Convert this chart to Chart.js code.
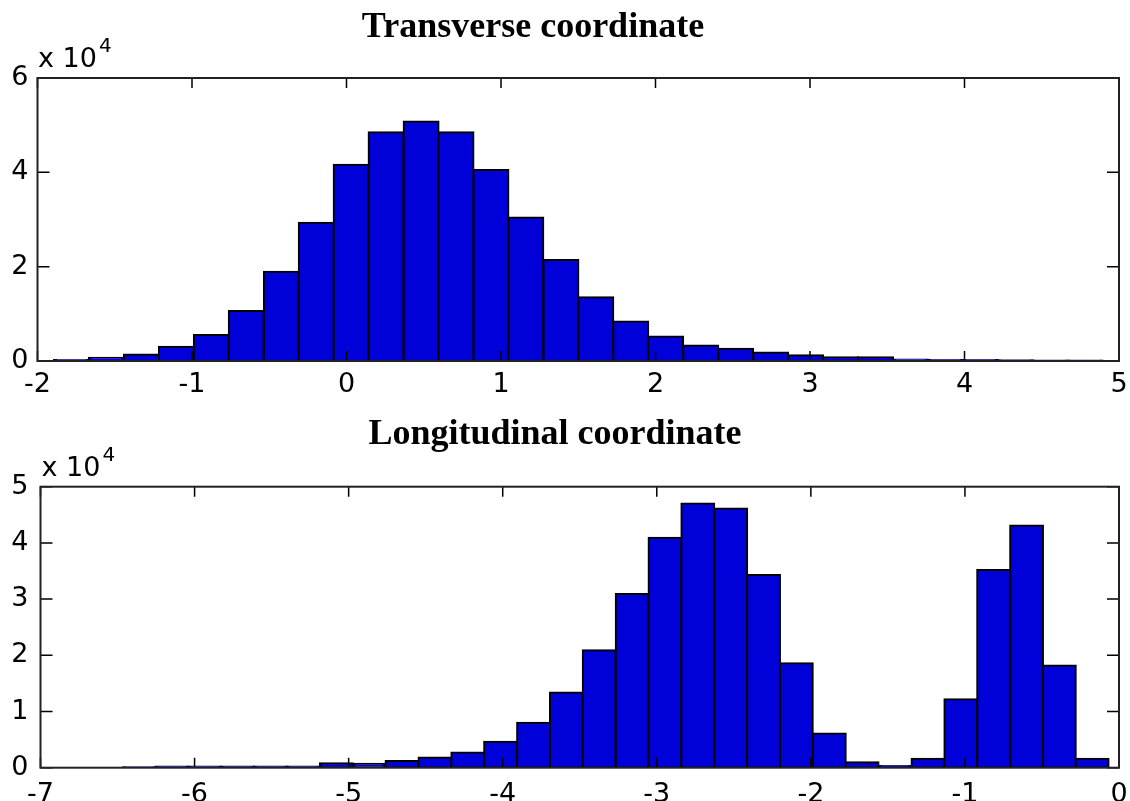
<!DOCTYPE html>
<html><head><meta charset="utf-8">
<script src="https://cdn.jsdelivr.net/npm/chart.js@4.4.1/dist/chart.umd.min.js"></script>
<style>
html,body{margin:0;padding:0;background:#fff;width:1130px;height:801px;overflow:hidden}
.box{position:absolute;left:0;width:1130px}
#b1{top:0;height:400px}
#b2{top:400px;height:401px}
</style></head><body>
<div class="box" id="b1"><canvas id="c1" width="1130" height="400"></canvas></div>
<div class="box" id="b2"><canvas id="c2" width="1130" height="401"></canvas></div>
<script>
// ---- data (counts are absolute; axis shows x 10^4) ----
const transverseTitle = 'Transverse coordinate';
const transverseBinCenters = [-1.780, -1.554, -1.327, -1.101, -0.875, -0.649, -0.422, -0.196, 0.030, 0.256,
  0.483, 0.709, 0.935, 1.161, 1.388, 1.614, 1.840, 2.066, 2.293, 2.519,
  2.745, 2.971, 3.198, 3.424, 3.650, 3.876, 4.103, 4.329, 4.555, 4.781];
const transverseCounts = [200, 700, 1400, 3000, 5500, 10600, 18900, 29300, 41600, 48500,
  50800, 48500, 40500, 30400, 21400, 13500, 8400, 5200, 3300, 2600,
  1800, 1200, 800, 800, 300, 200, 200, 150, 100, 100];
const transverseXTicks = [-2, -1, 0, 1, 2, 3, 4, 5];
const transverseYTicks = [0, 20000, 40000, 60000];

const longitudinalTitle = 'Longitudinal coordinate';
const longitudinalBinCenters = [-6.360, -6.147, -5.934, -5.720, -5.507, -5.294, -5.080, -4.867, -4.654, -4.440,
  -4.227, -4.014, -3.800, -3.587, -3.374, -3.160, -2.947, -2.734, -2.520, -2.307,
  -2.094, -1.880, -1.667, -1.454, -1.240, -1.027, -0.814, -0.600, -0.387, -0.174];
const longitudinalCounts = [100, 200, 200, 200, 200, 200, 800, 700, 1200, 1800,
  2700, 4600, 8000, 13400, 20900, 30900, 40900, 47000, 46100, 34300,
  18600, 6100, 950, 300, 1600, 12200, 35200, 43100, 18200, 1600];
const longitudinalXTicks = [-7, -6, -5, -4, -3, -2, -1, 0];
const longitudinalYTicks = [0, 10000, 20000, 30000, 40000, 50000];

const exponentBase = 'x 10';
const exponentPower = '4';

// ---- MATLAB-like frame, inward ticks, title, exponent label ----
const matlabAxes = {
  id: 'matlabAxes',
  afterDatasetsDraw(chart, args, opts) {
    const {ctx, chartArea: a, scales} = chart;
    const x = scales.x, y = scales.y;
    ctx.save();
    ctx.strokeStyle = '#000';
    ctx.lineWidth = 1.5;
    ctx.beginPath();
    x.ticks.forEach(t => {
      const px = x.getPixelForValue(t.value);
      ctx.moveTo(px, a.bottom); ctx.lineTo(px, a.bottom - opts.xTickLen);
      ctx.moveTo(px, a.top); ctx.lineTo(px, a.top + opts.xTickLen);
    });
    y.ticks.forEach(t => {
      const py = y.getPixelForValue(t.value);
      ctx.moveTo(a.left, py); ctx.lineTo(a.left + opts.yTickLen, py);
      ctx.moveTo(a.right, py); ctx.lineTo(a.right - opts.yTickLen, py);
    });
    ctx.stroke();
    ctx.lineWidth = 2;
    ctx.strokeStyle = '#222';
    ctx.strokeRect(a.left, a.top, a.width, a.height);
    // title
    ctx.fillStyle = '#000';
    ctx.font = 'bold 36px "Liberation Serif", "Times New Roman", serif';
    ctx.textAlign = 'center';
    ctx.textBaseline = 'alphabetic';
    ctx.fillText(opts.title, opts.titleX, opts.titleY);
    // exponent
    ctx.textAlign = 'left';
    ctx.font = '27px "DejaVu Sans", sans-serif';
    const ex = a.left + opts.expDx;
    ctx.fillText(exponentBase, ex, a.top - 11);
    const w = ctx.measureText(exponentBase).width;
    ctx.font = '20px "DejaVu Sans", sans-serif';
    ctx.fillText(exponentPower, ex + w + 2, a.top - 26);
    ctx.restore();
  }
};

function makeHist(canvasId, centers, counts, xTicks, yTicks, cfg) {
  return new Chart(document.getElementById(canvasId), {
    type: 'bar',
    data: {
      datasets: [{
        data: centers.map((c, i) => ({x: c, y: counts[i]})),
        backgroundColor: '#0000d8',
        borderColor: '#000',
        borderWidth: 2,
        borderSkipped: false,
        inflateAmount: 1,
        barPercentage: 1,
        categoryPercentage: 1
      }]
    },
    options: {
      responsive: false,
      animation: false,
      events: [],
      layout: {padding: {top: cfg.padTop, right: 11, bottom: 0, left: 0}},
      plugins: {
        legend: {display: false},
        title: {display: false},
        tooltip: {enabled: false},
        matlabAxes: {title: cfg.title, titleX: cfg.titleX, titleY: cfg.titleY,
          xTickLen: 10, yTickLen: 12, expDx: cfg.expDx}
      },
      scales: {
        x: {
          type: 'linear',
          offset: false,
          min: xTicks[0],
          max: xTicks[xTicks.length - 1],
          afterBuildTicks: s => { s.ticks = xTicks.map(v => ({value: v})); },
          grid: {display: false, drawTicks: false, offset: false},
          border: {display: false},
          ticks: {color: '#000', padding: cfg.xPad, maxRotation: 0, autoSkip: false,
            font: {family: 'DejaVu Sans', size: 27}, callback: v => String(v)},
          afterFit: s => { s.height = cfg.xHeight; s.paddingLeft = 0; s.paddingRight = 0; }
        },
        y: {
          min: yTicks[0],
          max: yTicks[yTicks.length - 1],
          afterBuildTicks: s => { s.ticks = yTicks.map(v => ({value: v})); },
          grid: {display: false, drawTicks: false},
          border: {display: false},
          ticks: {color: '#000', padding: cfg.yPad,
            font: {family: 'DejaVu Sans', size: 27}, callback: v => String(v / 10000)},
          afterFit: s => { s.width = cfg.yWidth; s.paddingTop = 0; s.paddingBottom = 0; }
        }
      }
    },
    plugins: [matlabAxes]
  });
}

makeHist('c1', transverseBinCenters, transverseCounts, transverseXTicks, transverseYTicks,
  {padTop: 78, xHeight: 39, yWidth: 37.5, xPad: 8, yPad: 9,
   title: transverseTitle, titleX: 533, titleY: 37, expDx: 0.5});
makeHist('c2', longitudinalBinCenters, longitudinalCounts, longitudinalXTicks, longitudinalYTicks,
  {padTop: 86.7, xHeight: 33.3, yWidth: 40.5, xPad: 11, yPad: 12,
   title: longitudinalTitle, titleX: 555, titleY: 44, expDx: 1});
</script>
</body></html>
